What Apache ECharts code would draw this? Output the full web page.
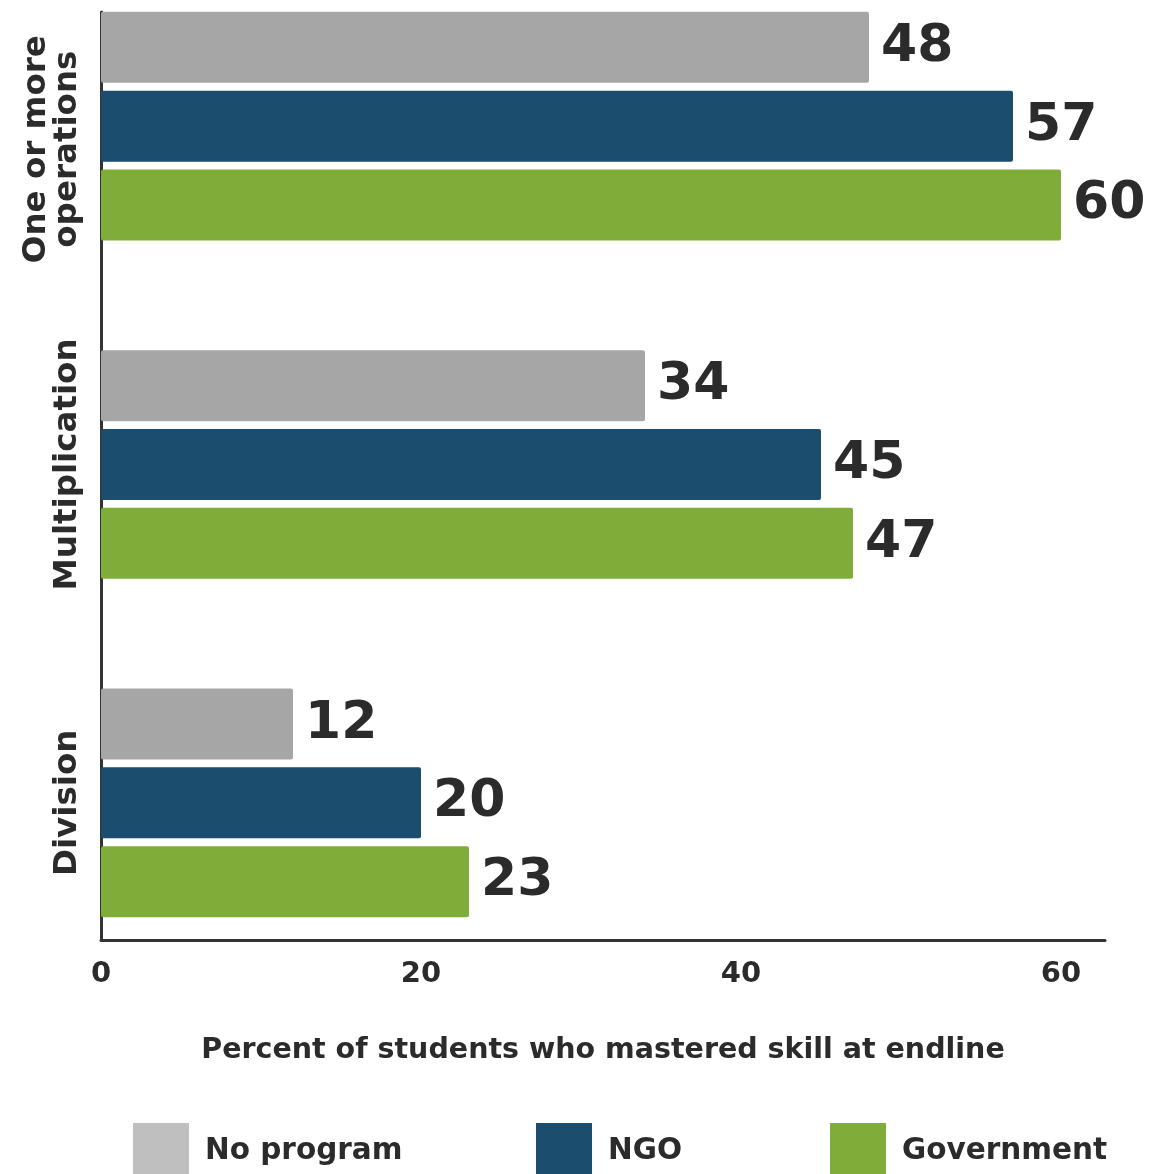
<!DOCTYPE html>
<html>
<head>
<meta charset="utf-8">
<script src="https://cdn.jsdelivr.net/npm/echarts@6/dist/echarts.min.js"></script>
<style>
html,body{margin:0;padding:0;background:#fff;}
#chart{width:1156px;height:1174px;}
</style>
</head>
<body>
<div id="chart"></div>
<script>
const categories = ['One or more\noperations', 'Multiplication', 'Division'];
const seriesNames = ['No program', 'NGO', 'Government'];
const noProgram = [48, 34, 12];
const ngo = [57, 45, 20];
const government = [60, 47, 23];
const xTicks = [0, 20, 40, 60];
const axisTitle = 'Percent of students who mastered skill at endline';

const TEXT = '#2b2b2b';
const FONT = '"DejaVu Sans", sans-serif';
const colors = ['#a6a6a6', '#1b4e6e', '#80ad39'];
const legendColors = ['#bfbfbf', '#1b4e6e', '#80ad39'];
const XMAX = 62.75;

const chart = echarts.init(document.getElementById('chart'), null, {renderer: 'canvas'});

function barSeries(name, data, idx) {
  return {
    name: name,
    type: 'bar',
    xAxisIndex: 0,
    yAxisIndex: 0,
    data: data,
    barWidth: 71,
    barGap: '11%',
    itemStyle: {color: colors[idx], borderRadius: 2},
    label: {
      show: true,
      position: 'right',
      distance: 12,
      fontFamily: FONT,
      fontWeight: 'bold',
      fontSize: 52,
      color: TEXT
    },
    emphasis: {disabled: true},
    animation: false
  };
}

function legendFor(idx, left) {
  return {
    data: [{name: seriesNames[idx], itemStyle: {color: legendColors[idx]}}],
    left: left,
    top: 1123,
    padding: 0,
    itemWidth: 56,
    itemHeight: 56,
    icon: 'rect',
    selectedMode: false,
    textStyle: {fontFamily: FONT, fontWeight: 'bold', fontSize: 29.5, color: TEXT, padding: [0, 0, 0, 11]}
  };
}

const categoryItems = categories.map(function (c, i) {
  return i === 0 ? {value: c, textStyle: {padding: [0, 46, 0, 0]}} : c;
});

const option = {
  backgroundColor: '#fff',
  animation: false,
  legend: [legendFor(0, 133), legendFor(1, 536), legendFor(2, 830)],
  grid: [
    {left: 101, right: 51, top: -43, bottom: 202, containLabel: false, outerBoundsMode: 'none'},
    {left: 101, right: 51, top: 12, bottom: 234, containLabel: false, outerBoundsMode: 'none'}
  ],
  xAxis: [
    {gridIndex: 0, type: 'value', min: 0, max: XMAX, show: false},
    {
      gridIndex: 1, type: 'value', min: 0, max: XMAX, interval: 20,
      axisLine: {show: true, lineStyle: {color: '#333', width: 3}},
      axisTick: {show: false},
      splitLine: {show: false},
      axisLabel: {
        showMaxLabel: false,
        margin: 20,
        fontFamily: FONT, fontWeight: 'bold', fontSize: 29, color: TEXT,
        formatter: function (v) { return xTicks.indexOf(v) >= 0 ? String(v) : ''; }
      },
      name: axisTitle,
      nameLocation: 'middle',
      nameGap: 96,
      nameTextStyle: {fontFamily: FONT, fontWeight: 'bold', fontSize: 28.5, color: TEXT}
    }
  ],
  yAxis: [
    {
      gridIndex: 0, type: 'category', data: categoryItems, inverse: true,
      axisLine: {show: false},
      axisTick: {show: false},
      splitLine: {show: false},
      axisLabel: {
        rotate: 90,
        margin: 18,
        fontFamily: FONT, fontWeight: 'bold', fontSize: 32.5, color: TEXT,
        lineHeight: 31
      }
    },
    {
      gridIndex: 1, type: 'value', min: 0, max: 1,
      axisLine: {show: true, lineStyle: {color: '#333', width: 3}},
      axisTick: {show: false},
      splitLine: {show: false},
      axisLabel: {show: false}
    }
  ],
  series: [
    barSeries(seriesNames[0], noProgram, 0),
    barSeries(seriesNames[1], ngo, 1),
    barSeries(seriesNames[2], government, 2)
  ]
};

chart.setOption(option);
</script>
</body>
</html>
